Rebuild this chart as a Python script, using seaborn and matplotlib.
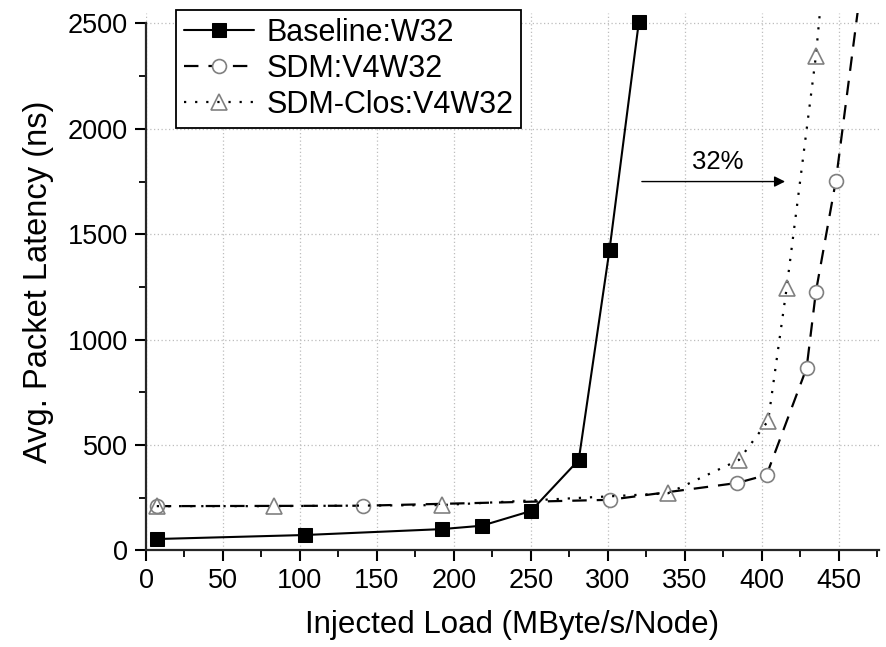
import pandas as pd
import matplotlib.pyplot as plt
import seaborn as sns
from matplotlib.ticker import MultipleLocator

# values
base_load = [7, 103, 192, 218, 250, 281, 301, 320]
base_lat = [54, 73, 101, 117, 187, 429, 1427, 2505]

sdm_load = [7, 141, 301, 384, 403, 429, 435, 448, 470]
sdm_lat = [210, 212, 240, 320, 358, 866, 1227, 1755, 3000]

clos_load = [7, 83, 192, 339, 385, 404, 416, 435, 442]
clos_lat = [210, 210, 215, 271, 429, 615, 1244, 2345, 2900]

sns.set_style("ticks")
plt.rcParams['font.family'] = ['Liberation Sans', 'DejaVu Sans']
plt.rcParams['text.color'] = 'black'
plt.rcParams['xtick.color'] = 'black'
plt.rcParams['ytick.color'] = 'black'

fig = plt.figure(figsize=(8.87, 6.47), dpi=100)
ax = fig.add_axes([0.1646, 0.1493, 0.8264, 0.8307])

base = pd.DataFrame({'load': base_load, 'lat': base_lat})
sdm = pd.DataFrame({'load': sdm_load, 'lat': sdm_lat})
clos = pd.DataFrame({'load': clos_load, 'lat': clos_lat})

sns.lineplot(data=base, x='load', y='lat', ax=ax, color='black', lw=1.5,
             marker='s', markersize=10, markerfacecolor='black',
             markeredgecolor='black', label='Baseline:W32')
sns.lineplot(data=sdm, x='load', y='lat', ax=ax, color='black', lw=1.6,
             linestyle=(0, (6.5, 4.5)), marker='o', markersize=10,
             markerfacecolor='white', markeredgecolor='#808080',
             markeredgewidth=1.2, label='SDM:V4W32')
sns.lineplot(data=clos, x='load', y='lat', ax=ax, color='black', lw=1.6,
             linestyle=(0, (1, 4)), marker='^', markersize=11,
             markerfacecolor='none', markeredgecolor='#808080',
             markeredgewidth=1.2, label='SDM-Clos:V4W32')

ax.set_xlim(0, 476)
ax.set_ylim(0, 2550)
ax.xaxis.set_major_locator(MultipleLocator(50))
ax.xaxis.set_minor_locator(MultipleLocator(25))
ax.yaxis.set_major_locator(MultipleLocator(500))
ax.yaxis.set_minor_locator(MultipleLocator(250))
ax.set_yticks(range(0, 2501, 500))
ax.spines['left'].set_bounds(0, 2500)
for s in ['top', 'right']:
    ax.spines[s].set_visible(False)
for s in ['left', 'bottom']:
    ax.spines[s].set_linewidth(1.6)
ax.tick_params(which='major', length=8, width=1.5, labelsize=19.5, pad=5, color='black')
ax.tick_params(which='minor', length=5, width=1.3, color='black')
ax.grid(which='major', color='#bdbdbd', linestyle=(0, (1, 2)), lw=0.9)

ax.set_xlabel('Injected Load (MByte/s/Node)', fontsize=22.5, color='black', labelpad=11)
ax.set_ylabel('Avg. Packet Latency (ns)', fontsize=23.5, color='black', labelpad=10)

ax.annotate('', xy=(415, 1750), xytext=(322, 1750),
            arrowprops=dict(arrowstyle='-|>', color='black', lw=1.0,
                            mutation_scale=16, shrinkA=0, shrinkB=0))
ax.text(371, 1845, '32%', fontsize=18.5, ha='center', va='center')

leg = ax.legend(loc='upper left', bbox_to_anchor=(176 / 887, 1 - 10 / 647),
                bbox_transform=fig.transFigure, borderaxespad=0,
                fontsize=22, handlelength=2.3, labelspacing=0.2,
                fancybox=False, framealpha=1, edgecolor='black',
                borderpad=0.25, handletextpad=0.4)
leg.get_frame().set_linewidth(1.3)

fig.savefig('out.png', dpi=100)
